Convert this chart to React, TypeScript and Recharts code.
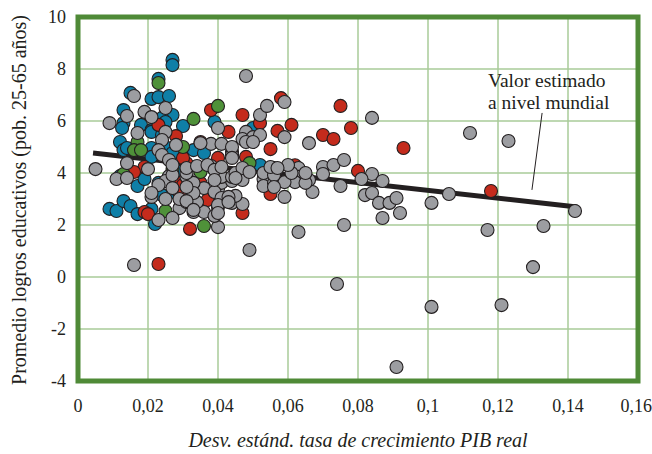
import React from 'react'
import {
  ScatterChart,
  Scatter,
  XAxis,
  YAxis,
  CartesianGrid,
  ReferenceLine,
  ReferenceArea,
} from 'recharts'

// [desv. estándar crecimiento PIB, promedio logros educativos]
const GRAY: [number, number][] = [
  [0.005, 4.15], [0.009, 5.92], [0.016, 6.96], [0.014, 6.19], [0.019, 6.35],
  [0.025, 6.5], [0.021, 6.15], [0.04, 5.73], [0.025, 5.58], [0.028, 5.08],
  [0.017, 5.54], [0.024, 5.27], [0.023, 4.88], [0.052, 6.23], [0.054, 6.58],
  [0.059, 6.73], [0.059, 5.38], [0.048, 5.58], [0.047, 5.31], [0.05, 5.38],
  [0.052, 5.46], [0.066, 5.15], [0.07, 4.23], [0.073, 4.31], [0.076, 4.5],
  [0.038, 5.12], [0.041, 5.12], [0.044, 4.81], [0.014, 4.38], [0.02, 4.15],
  [0.084, 6.12], [0.063, 4.19], [0.063, 3.85], [0.066, 3.73], [0.062, 3.65],
  [0.067, 3.27], [0.075, 3.5], [0.082, 3.15], [0.084, 3.23], [0.086, 2.85],
  [0.089, 2.85], [0.091, 3.04], [0.087, 2.27], [0.092, 2.46], [0.076, 2.0],
  [0.063, 1.73], [0.112, 5.54], [0.123, 5.23], [0.106, 3.19], [0.101, 2.85],
  [0.142, 2.54], [0.084, 3.96], [0.087, 3.69], [0.081, 3.77], [0.07, 3.96],
  [0.117, 1.81], [0.133, 1.96], [0.13, 0.38], [0.074, -0.27], [0.101, -1.15],
  [0.121, -1.08], [0.091, -3.46], [0.011, 3.77], [0.014, 3.81], [0.021, 3.08],
  [0.025, 3.0], [0.029, 2.65], [0.031, 2.88], [0.033, 2.5], [0.036, 2.5],
  [0.034, 2.88], [0.023, 2.19], [0.027, 2.27], [0.026, 3.88], [0.025, 3.69],
  [0.033, 3.5], [0.031, 3.85], [0.029, 3.0], [0.04, 1.92], [0.039, 2.35],
  [0.04, 2.69], [0.036, 3.42], [0.04, 3.38], [0.044, 2.85], [0.047, 2.81],
  [0.045, 3.12], [0.041, 3.62], [0.044, 3.69], [0.047, 3.73], [0.04, 3.96],
  [0.038, 4.27], [0.049, 1.04], [0.016, 0.46], [0.053, 3.77], [0.053, 3.5],
  [0.059, 3.08], [0.056, 3.62], [0.059, 3.65], [0.061, 4.0], [0.06, 4.31],
  [0.065, 3.62], [0.065, 4.0], [0.044, 4.69], [0.056, 4.19], [0.053, 4.0],
  [0.056, 3.92], [0.033, 3.62], [0.039, 3.27], [0.033, 3.23], [0.041, 3.04],
  [0.043, 3.08], [0.041, 3.85], [0.044, 3.85], [0.027, 3.92], [0.031, 4.0],
  [0.024, 4.69], [0.026, 4.5], [0.023, 3.54], [0.027, 3.42], [0.031, 2.92],
  [0.048, 7.73], [0.035, 5.15], [0.044, 5.0], [0.048, 5.19], [0.05, 5.19],
  [0.044, 4.58], [0.055, 4.23], [0.057, 4.19], [0.031, 4.19], [0.034, 4.27],
  [0.037, 4.31], [0.039, 4.12], [0.041, 4.23], [0.045, 4.0], [0.047, 4.19],
  [0.049, 4.04], [0.045, 3.81], [0.056, 3.46], [0.031, 3.46], [0.039, 3.73],
  [0.04, 2.77], [0.043, 2.88], [0.033, 2.58], [0.04, 2.46], [0.027, 4.31],
  [0.021, 3.23],
]

const RED: [number, number][] = [
  [0.023, 5.85], [0.038, 6.42], [0.028, 5.42], [0.047, 6.23], [0.058, 6.88],
  [0.057, 5.62], [0.061, 5.85], [0.055, 4.92], [0.052, 5.92], [0.07, 5.46],
  [0.073, 5.31], [0.075, 6.58], [0.078, 5.73], [0.08, 4.08], [0.035, 5.19],
  [0.04, 4.58], [0.048, 4.62], [0.019, 4.23], [0.093, 4.96], [0.118, 3.31],
  [0.023, 0.5], [0.019, 2.5], [0.02, 2.42], [0.029, 3.62], [0.032, 1.85],
  [0.037, 2.96], [0.047, 2.46], [0.055, 3.19], [0.062, 4.3], [0.035, 3.62],
  [0.031, 4.38], [0.03, 4.58], [0.043, 5.58], [0.031, 3.92], [0.03, 3.54],
  [0.016, 4.04], [0.029, 3.2],
]

const BLUE: [number, number][] = [
  [0.027, 8.35], [0.027, 8.15], [0.023, 7.62], [0.015, 7.08], [0.021, 6.85],
  [0.023, 6.92], [0.026, 6.96], [0.013, 6.42], [0.027, 6.23], [0.024, 6.12],
  [0.013, 5.92], [0.018, 5.85], [0.025, 5.96], [0.021, 5.65], [0.039, 5.96],
  [0.03, 5.81], [0.012, 5.19], [0.021, 5.58], [0.021, 4.96], [0.025, 5.0],
  [0.013, 4.88], [0.033, 4.88], [0.05, 5.73], [0.036, 4.77], [0.052, 4.31],
  [0.009, 2.62], [0.011, 2.54], [0.013, 2.92], [0.015, 2.73], [0.017, 2.42],
  [0.017, 3.5], [0.019, 3.77], [0.021, 2.62], [0.022, 2.04], [0.023, 3.62],
  [0.028, 3.23], [0.021, 4.62], [0.027, 4.77], [0.012, 3.88], [0.0126, 5.73],
  [0.014, 4.96], [0.024, 5.46], [0.029, 4.04], [0.024, 3.15],
]

const GREEN: [number, number][] = [
  [0.023, 7.46], [0.033, 6.08], [0.04, 6.58], [0.03, 5.0], [0.017, 5.19],
  [0.016, 4.88], [0.018, 4.88], [0.049, 4.38], [0.025, 2.54], [0.036, 1.96],
  [0.027, 4.15], [0.044, 4.77], [0.035, 4.04], [0.013, 3.96],
]

// recta estimada a nivel mundial
const FIT: [number, number][] = [[0.0043, 4.77], [0.1426, 2.69]]
const LEADER: [number, number][] = [[0.1326, 6.31], [0.1297, 3.35]]

const X_TICKS = [0, 0.02, 0.04, 0.06, 0.08, 0.1, 0.12, 0.14, 0.16]
const Y_TICKS = [-4, -2, 0, 2, 4, 6, 8, 10]

const INK = '#231f20'
const SERIF = 'Liberation Serif'

const toPts = (arr: [number, number][]) => arr.map(([x, y]) => ({ x, y }))

const dot = (fill: string) => (props: any) => (
  <circle cx={props.cx} cy={props.cy} r={6.5} fill={fill} stroke={INK} strokeWidth={1.1} />
)

const note = { position: 'absolute', left: 488, fontFamily: SERIF, fontSize: 19.5, lineHeight: '18px', color: INK, whiteSpace: 'nowrap' } as const

export default function App() {
  return (
    <div style={{ position: 'absolute', left: 0, top: 0, width: 652, height: 454, background: '#fff' }}>
      <ScatterChart width={652} height={454} margin={{ top: 17, right: 14, bottom: 43, left: 28 }}>
        <CartesianGrid stroke="#a8cb99" strokeWidth={1.5} horizontalValues={Y_TICKS} verticalValues={X_TICKS} />
        <XAxis
          type="number"
          dataKey="x"
          domain={[0, 0.16]}
          ticks={X_TICKS}
          height={30}
          axisLine={false}
          tickLine={false}
          tickMargin={12}
          tickFormatter={(v: number) => String(v).replace('.', ',')}
          tick={{ fontSize: 18, fill: INK, fontFamily: SERIF }}
        />
        <YAxis
          type="number"
          dataKey="y"
          domain={[-4, 10]}
          ticks={Y_TICKS}
          width={50}
          axisLine={false}
          tickLine={false}
          tickMargin={6}
          tick={{ fontSize: 18, fill: INK, fontFamily: SERIF }}
        />
        <Scatter data={toPts(BLUE)} shape={dot('#0f7fa7')} isAnimationActive={false} />
        <Scatter data={toPts(RED)} shape={dot('#c42b1c')} isAnimationActive={false} />
        <Scatter data={toPts(GREEN)} shape={dot('#4f9139')} isAnimationActive={false} />
        <Scatter data={toPts(GRAY)} shape={dot('#9c9da1')} isAnimationActive={false} />
        <ReferenceLine
          segment={FIT.map(([x, y]) => ({ x, y }))}
          stroke={INK}
          strokeWidth={5}
          ifOverflow="visible"
        />
        <ReferenceLine
          segment={LEADER.map(([x, y]) => ({ x, y }))}
          stroke={INK}
          strokeWidth={1}
          ifOverflow="visible"
        />
        <ReferenceArea
          x1={0}
          x2={0.16}
          y1={-4}
          y2={10}
          fill="none"
          fillOpacity={0}
          stroke="#4f8a37"
          strokeWidth={5}
          ifOverflow="visible"
        />
      </ScatterChart>

      <div style={{ ...note, top: 72 }}>Valor estimado</div>
      <div style={{ ...note, top: 94 }}>a nivel mundial</div>

      <div
        style={{
          position: 'absolute',
          left: 19,
          top: 200,
          transform: 'translate(-50%, -50%) rotate(-90deg)',
          fontFamily: SERIF,
          fontSize: 20,
          color: INK,
          whiteSpace: 'nowrap',
        }}
      >
        Promedio logros educativos (pob. 25-65 años)
      </div>

      <div
        style={{
          position: 'absolute',
          left: 358,
          top: 440,
          transform: 'translate(-50%, -50%)',
          fontFamily: SERIF,
          fontStyle: 'italic',
          fontSize: 20,
          color: INK,
          whiteSpace: 'nowrap',
        }}
      >
        Desv. estánd. tasa de crecimiento PIB real
      </div>
    </div>
  )
}
